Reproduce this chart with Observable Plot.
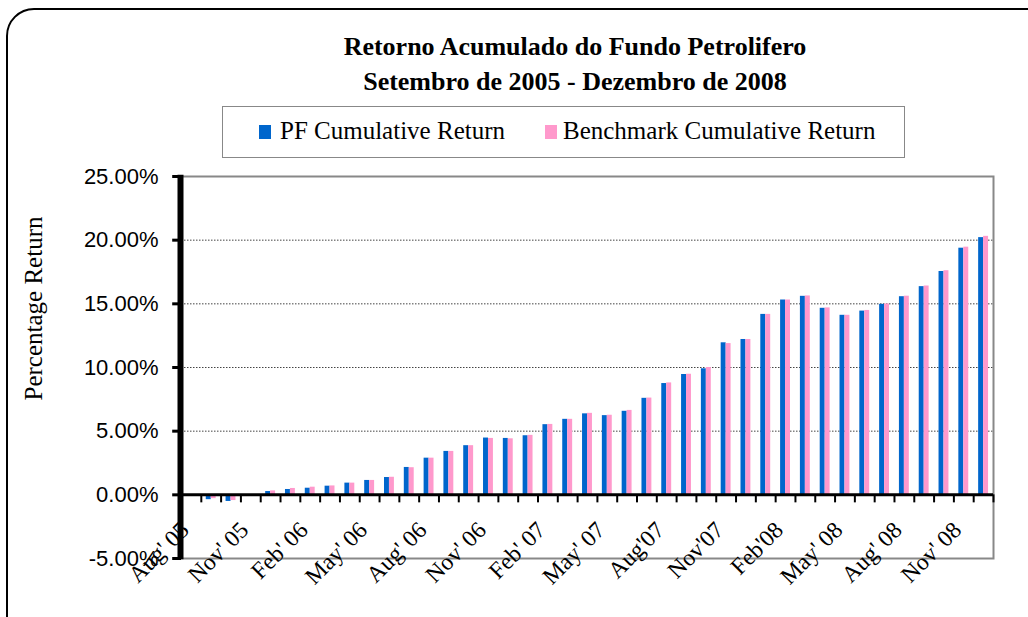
<!DOCTYPE html>
<html>
<head>
<meta charset="utf-8">
<script src="https://cdn.jsdelivr.net/npm/d3@7"></script>
<script src="https://cdn.jsdelivr.net/npm/@observablehq/plot@0.6"></script>
<style>
  body { margin: 0; background: #fff; }
  #wrap { position: relative; width: 1028px; height: 617px; overflow: hidden; background: #fff; font-family: "Liberation Serif", serif; }
  #frame { position: absolute; left: 6px; top: 8px; width: 1050px; height: 640px; border: 2.5px solid #000; border-radius: 28px; box-sizing: border-box; }
  #title { position: absolute; left: 275px; width: 600px; top: 29px; text-align: center; font-weight: bold; font-size: 26px; line-height: 35px; color: #000; }
  #legend { position: absolute; left: 222px; top: 106px; width: 683px; height: 52px; border: 1px solid #888; box-sizing: border-box; }
  .sw { position: absolute; top: 18px; width: 12px; height: 14px; }
  .lt { position: absolute; top: 9px; font-size: 25px; line-height: 30px; white-space: nowrap; }
  #chart { position: absolute; left: 0; top: 0; }
</style>
</head>
<body>
<div id="wrap">
  <div id="frame"></div>
  <div id="chart"></div>
  <div id="title">Retorno Acumulado do Fundo Petrolifero<br>Setembro de 2005 - Dezembro de 2008</div>
  <div id="legend">
    <div class="sw" style="left:36px;background:#0066CC"></div>
    <div class="lt" style="left:57px">PF Cumulative Return</div>
    <div class="sw" style="left:322px;background:#FF99CC"></div>
    <div class="lt" style="left:340px">Benchmark Cumulative Return</div>
  </div>
</div>
<script>
const months = ["Aug 05","Sep 05","Oct 05","Nov 05","Dec 05","Jan 06","Feb 06","Mar 06","Apr 06","May 06","Jun 06","Jul 06",
  "Aug 06","Sep 06","Oct 06","Nov 06","Dec 06","Jan 07","Feb 07","Mar 07","Apr 07","May 07","Jun 07","Jul 07",
  "Aug 07","Sep 07","Oct 07","Nov 07","Dec 07","Jan 08","Feb 08","Mar 08","Apr 08","May 08","Jun 08","Jul 08",
  "Aug 08","Sep 08","Oct 08","Nov 08","Dec 08"];
const pfReturn = [0, -0.38, -0.52, 0, 0.26, 0.42, 0.52, 0.68, 0.92, 1.13, 1.36, 2.15,
  2.88, 3.41, 3.86, 4.46, 4.43, 4.64, 5.51, 5.93, 6.36, 6.22, 6.56, 7.58,
  8.74, 9.45, 9.9, 11.94, 12.2, 14.17, 15.3, 15.59, 14.65, 14.1, 14.43, 14.96,
  15.56, 16.35, 17.54, 19.37, 20.2];
const benchmarkReturn = [0, -0.3, -0.45, 0, 0.31, 0.5, 0.6, 0.7, 0.92, 1.13, 1.38, 2.13,
  2.88, 3.41, 3.86, 4.43, 4.4, 4.67, 5.53, 5.93, 6.4, 6.25, 6.63, 7.6,
  8.79, 9.47, 10.0, 11.88, 12.2, 14.17, 15.3, 15.62, 14.68, 14.1, 14.48, 14.99,
  15.6, 16.4, 17.6, 19.45, 20.3];
const tickLabels = ["Aug' 05","Nov' 05","Feb' 06","May' 06","Aug' 06","Nov' 06","Feb' 07","May' 07",
  "Aug'07","Nov'07","Feb'08","May' 08","Aug' 08","Nov' 08"];
const tickMonths = ["Aug 05","Nov 05","Feb 06","May 06","Aug 06","Nov 06","Feb 07","May 07",
  "Aug 07","Nov 07","Feb 08","May 08","Aug 08","Nov 08"];
const yTicks = [-5, 0, 5, 10, 15, 20, 25];
const gridValues = [5, 10, 15, 20];

const data = months.map((m, i) => ({month: m, pf: pfReturn[i], bm: benchmarkReturn[i]}));
const tickData = tickMonths.map((m, i) => ({month: m, label: tickLabels[i]}));

const W = 1028, H = 617, mL = 181, mR = 35, mT = 176, mB = 59;
const bw = (W - mL - mR) / months.length;

const chart = Plot.plot({
  width: W, height: H,
  marginLeft: mL, marginRight: mR, marginTop: mT, marginBottom: mB,
  x: {type: "band", domain: months, padding: 0, axis: null},
  y: {domain: [-5, 25], axis: null},
  style: {background: "transparent", overflow: "visible"},
  marks: [
    Plot.ruleY(gridValues, {stroke: "#444", strokeWidth: 1, strokeDasharray: "1.5,1.5"}),
    Plot.frame({stroke: "#888", strokeWidth: 2}),
    Plot.barY(data, {x: "month", y: "pf", fill: "#0066CC", insetLeft: bw * 0.25, insetRight: bw * 0.5}),
    Plot.barY(data, {x: "month", y: "bm", fill: "#FF99CC", insetLeft: bw * 0.5, insetRight: bw * 0.25}),
    Plot.ruleY([0], {stroke: "#000", strokeWidth: 3}),
    Plot.ruleX(months, {x: d => d, dx: bw / 2, y1: 0, y2: -0.63, stroke: "#000", strokeWidth: 2}),
    Plot.ruleX([months[0]], {x: d => d, dx: -bw / 2 - 1, y1: -5.1, y2: 25.1, stroke: "#000", strokeWidth: 6}),
    Plot.tickY(yTicks, {y: d => d, x: () => months[0], insetLeft: 11, dx: -bw, stroke: "#000", strokeWidth: 3}),
    Plot.text(yTicks, {y: d => d, text: d => d.toFixed(2) + "%", frameAnchor: "left", textAnchor: "end", dx: -23,
      fontSize: 22, fontFamily: "Liberation Sans, sans-serif", fill: "#000"}),
    Plot.text(tickData, {x: "month", text: "label", frameAnchor: "bottom", rotate: -45, textAnchor: "end",
      dx: -1, dy: -27, fontSize: 23.5, fontFamily: "Liberation Serif, serif", fill: "#000"}),
    Plot.text(["Percentage Return"], {frameAnchor: "left", text: d => d, rotate: -90, textAnchor: "middle", dx: -148, dy: -59,
      fontSize: 25, fontFamily: "Liberation Serif, serif", fill: "#000"})
  ]
});
document.getElementById("chart").appendChild(chart);
</script>
</body>
</html>
